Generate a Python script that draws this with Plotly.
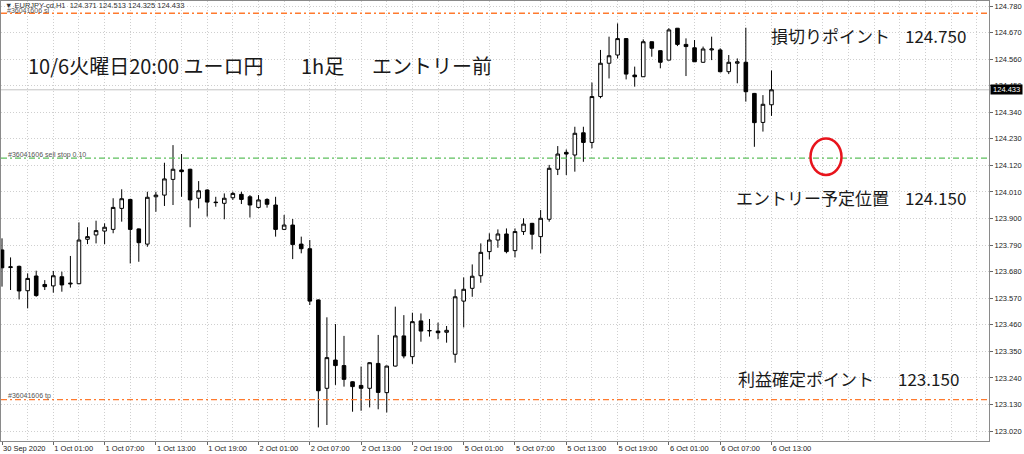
import plotly.graph_objects as go

# ---- data (EURJPY H1) ----
open_ = [123.770, 123.697, 123.702, 123.601, 123.662, 123.627, 123.621, 123.659, 123.629, 123.630,
         123.814, 123.832, 123.848, 123.855, 123.942, 123.979, 123.857, 123.794, 123.990, 123.997,
         124.062, 124.101, 124.104, 123.984, 124.018, 123.968, 123.963, 123.986, 124.000, 123.990,
         123.946, 123.979, 123.956, 123.855, 123.873, 123.794, 123.775, 123.563, 123.197, 123.314,
         123.291, 123.224, 123.209, 123.197, 123.300, 123.179, 123.289, 123.414, 123.328, 123.476,
         123.435, 123.434, 123.429, 123.338, 123.558, 123.611, 123.663, 123.763, 123.811, 123.836,
         123.767, 123.846, 123.880, 123.825, 123.897, 124.104, 124.174, 124.163, 124.255, 124.215,
         124.405, 124.543, 124.577, 124.645, 124.494, 124.487, 124.632, 124.595, 124.556, 124.688,
         124.621, 124.607, 124.547, 124.598, 124.598, 124.508, 124.543, 124.547, 124.418, 124.298,
         124.371]
high = [123.818, 123.739, 123.705, 123.673, 123.684, 123.645, 123.683, 123.680, 123.745, 123.884,
        123.864, 123.891, 123.880, 123.984, 124.021, 123.982, 123.859, 124.011, 124.011, 124.131,
        124.204, 124.167, 124.106, 124.055, 124.021, 123.990, 124.004, 124.011, 124.011, 123.997,
        123.997, 123.984, 123.990, 123.915, 123.898, 123.825, 123.811, 123.565, 123.491, 123.463,
        123.414, 123.226, 123.287, 123.305, 123.418, 123.291, 123.535, 123.500, 123.510, 123.507,
        123.484, 123.469, 123.455, 123.607, 123.656, 123.710, 123.797, 123.839, 123.855, 123.859,
        123.859, 123.901, 123.882, 123.935, 124.122, 124.200, 124.186, 124.280, 124.280, 124.463,
        124.598, 124.653, 124.708, 124.647, 124.529, 124.642, 124.633, 124.596, 124.688, 124.689,
        124.646, 124.639, 124.612, 124.653, 124.605, 124.577, 124.563, 124.690, 124.420, 124.411,
        124.513]
low = [123.618, 123.604, 123.565, 123.528, 123.576, 123.604, 123.593, 123.597, 123.614, 123.628,
       123.794, 123.797, 123.794, 123.839, 123.887, 123.714, 123.721, 123.783, 123.928, 123.952,
       123.956, 123.990, 123.864, 123.942, 123.908, 123.949, 123.897, 123.977, 123.960, 123.904,
       123.942, 123.945, 123.825, 123.852, 123.732, 123.756, 123.542, 123.035, 123.045, 123.211,
       123.204, 123.100, 123.104, 123.118, 123.110, 123.097, 123.287, 123.321, 123.298, 123.390,
       123.411, 123.400, 123.386, 123.303, 123.449, 123.576, 123.634, 123.731, 123.779, 123.756,
       123.739, 123.832, 123.772, 123.756, 123.887, 124.080, 124.080, 124.094, 124.135, 124.191,
       124.398, 124.480, 124.563, 124.476, 124.446, 124.486, 124.570, 124.522, 124.555, 124.614,
       124.490, 124.548, 124.545, 124.556, 124.505, 124.498, 124.460, 124.384, 124.197, 124.260,
       124.325]
close = [123.696, 123.700, 123.600, 123.652, 123.581, 123.618, 123.663, 123.625, 123.632, 123.811,
         123.825, 123.850, 123.864, 123.946, 123.982, 123.855, 123.800, 123.988, 123.997, 124.064,
         124.104, 124.094, 123.977, 124.015, 123.968, 123.966, 123.984, 124.004, 123.979, 123.956,
         123.977, 123.959, 123.855, 123.873, 123.792, 123.775, 123.558, 123.187, 123.324, 123.291,
         123.234, 123.204, 123.197, 123.303, 123.180, 123.289, 123.414, 123.331, 123.473, 123.434,
         123.436, 123.427, 123.437, 123.576, 123.607, 123.661, 123.760, 123.811, 123.836, 123.763,
         123.846, 123.877, 123.835, 123.901, 124.108, 124.167, 124.167, 124.253, 124.215, 124.405,
         124.543, 124.574, 124.645, 124.498, 124.487, 124.632, 124.605, 124.547, 124.681, 124.621,
         124.612, 124.549, 124.602, 124.602, 124.508, 124.547, 124.549, 124.425, 124.297, 124.373,
         124.433]

time_tick_pos = [0, 6, 12, 18, 24, 30, 36, 42, 48, 54, 60, 66, 72, 78, 84, 90]
time_tick_labels = ["30 Sep 2020", "1 Oct 01:00", "1 Oct 07:00", "1 Oct 13:00", "1 Oct 19:00",
                    "2 Oct 01:00", "2 Oct 07:00", "2 Oct 13:00", "2 Oct 19:00", "5 Oct 01:00",
                    "5 Oct 07:00", "5 Oct 13:00", "5 Oct 19:00", "6 Oct 01:00", "6 Oct 07:00",
                    "6 Oct 13:00"]
price_ticks = [123.020, 123.130, 123.240, 123.350, 123.460, 123.570, 123.680, 123.790, 123.900,
               124.010, 124.120, 124.230, 124.340, 124.450, 124.560, 124.670, 124.780]

stop_loss = 124.750
entry = 124.150
take_profit = 123.150
last_price = 124.433

bar_index = list(range(len(open_)))

# ---- layout geometry ----
W, H = 1024, 454
ML, MR, MT, MB = 1, 35, 1, 13
PW, PH = W - ML - MR, H - MT - MB


def px_x(px):
    return (px - ML) / PW


def px_y(py):
    return 1 - (py - MT) / PH


fig = go.Figure()
fig.add_trace(go.Candlestick(
    x=bar_index, open=open_, high=high, low=low, close=close,
    increasing=dict(line=dict(color="#000000", width=1), fillcolor="#ffffff"),
    decreasing=dict(line=dict(color="#000000", width=1), fillcolor="#000000"),
    whiskerwidth=0, hoverinfo="skip", showlegend=False,
))

small_font = dict(family="Liberation Sans, Arial, sans-serif", size=7.5, color="#222222")
jp_font = "Noto Sans CJK JP, sans-serif"

# horizontal order lines
shapes = []
for val, col in [(stop_loss, "#FF7A2E"), (take_profit, "#FF7A2E"), (entry, "#5DC05D")]:
    shapes.append(dict(type="line", xref="paper", x0=0, x1=1, yref="y", y0=val, y1=val,
                       line=dict(color=col, width=1.3, dash="6px,3px,2px,3px"), layer="above"))
shapes.append(dict(type="line", xref="paper", x0=0, x1=1, yref="y", y0=last_price, y1=last_price,
                   line=dict(color="#C4C4C4", width=1), layer="below"))
# red circle
shapes.append(dict(type="circle", xref="paper", yref="paper",
                   x0=px_x(810.5), x1=px_x(841.5), y0=px_y(175), y1=px_y(138.5),
                   line=dict(color="#E8141C", width=2.5)))

ann = []


def add_text(text, px, py, size, anchor="left", font=jp_font, color="#1a1a1a"):
    ann.append(dict(text=text, xref="paper", yref="paper", x=px_x(px), y=px_y(py),
                    xanchor=anchor, yanchor="middle", showarrow=False,
                    font=dict(family=font, size=size, color=color)))


# header & order labels
add_text("▼ EURJPY-cd,H1  124.371 124.513 124.325 124.433", 3, 5.5, 7.5,
         font="Liberation Sans, Arial, sans-serif", color="#333333")
add_text("#36041606 sl", 5, 11, 7, font="Liberation Sans, Arial, sans-serif", color="#555555")
add_text("#36041606 sell stop 0.10", 6, 155, 7, font="Liberation Sans, Arial, sans-serif", color="#555555")
add_text("#36041606 tp", 6, 396, 7, font="Liberation Sans, Arial, sans-serif", color="#555555")

# title
add_text("10/6火曜日20:00 ユーロ円", 26, 65, 20)
add_text("1h足", 299, 65, 20)
add_text("エントリー前", 370, 65, 20)

# right-side notes
add_text("損切りポイント", 769, 35, 17)
add_text("124.750", 968, 35, 17, anchor="right")
add_text("エントリー予定位置", 734, 197, 17)
add_text("124.150", 968, 197, 17, anchor="right")
add_text("利益確定ポイント", 736, 378, 17)
add_text("123.150", 961, 378, 17, anchor="right")

# current price box
ann.append(dict(text=" 124.433 ", xref="paper", yref="y", x=1, y=last_price, xanchor="left",
                yanchor="middle", xshift=1, showarrow=False, bgcolor="#000000", borderpad=0,
                font=dict(family="Liberation Sans, Arial, sans-serif", size=7.5, color="#ffffff")))

fig.update_layout(
    width=W, height=H, margin=dict(l=ML, r=MR, t=MT, b=MB, autoexpand=False),
    paper_bgcolor="#ffffff", plot_bgcolor="#ffffff",
    boxgap=0.4, showlegend=False,
    shapes=shapes, annotations=ann,
    xaxis=dict(range=[-0.117, 115.44], rangeslider=dict(visible=False),
               tickmode="array", tickvals=time_tick_pos, ticktext=time_tick_labels,
               ticks="outside", ticklen=3, tickcolor="#666666",
               ticklabelposition="outside right",
               tickfont=small_font, showgrid=True, gridcolor="#CFCFCF", gridwidth=1,
               griddash="1px,2px",
               minor=dict(dtick=3, tick0=0, showgrid=True, gridcolor="#CFCFCF", griddash="1px,2px",
                          ticks=""),
               showline=True, linecolor="#8a8a8a", linewidth=1, mirror=True, zeroline=False,
               fixedrange=True, automargin=False),
    yaxis=dict(range=[122.9788, 124.8007], side="right", tickmode="array",
               tickvals=price_ticks, ticktext=[f"{v:.3f}" for v in price_ticks],
               ticks="outside", ticklen=3, tickcolor="#666666", tickfont=small_font,
               showgrid=True, gridcolor="#CFCFCF", gridwidth=1, griddash="1px,2px",
               showline=True, linecolor="#8a8a8a", linewidth=1, mirror=True, zeroline=False,
               fixedrange=True, automargin=False),
)

fig.write_html("out.html", config={"displayModeBar": False},
               post_script="document.body.style.margin='0px';document.body.style.overflow='hidden';")
